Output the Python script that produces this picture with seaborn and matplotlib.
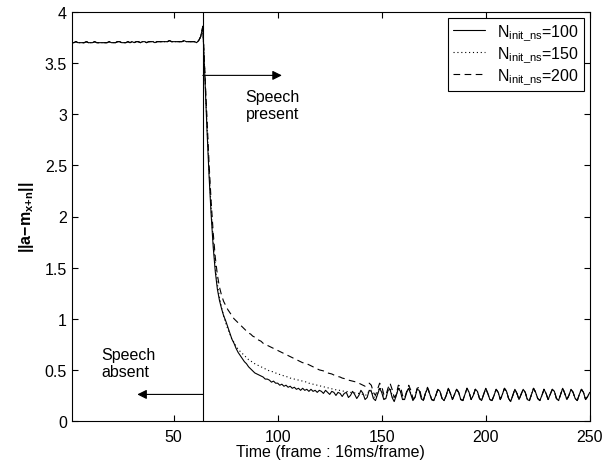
import numpy as np
import matplotlib
matplotlib.use("Agg")
import matplotlib.pyplot as plt
import seaborn as sns

# frames 1..63, identical for all three runs (no speech yet)
pre_speech = [3.70, 3.70, 3.71, 3.70, 3.70, 3.70, 3.70, 3.71, 3.70, 3.70,
              3.70, 3.71, 3.70, 3.70, 3.70, 3.70, 3.70, 3.70, 3.71, 3.70,
              3.70, 3.70, 3.71, 3.71, 3.70, 3.70, 3.70, 3.71, 3.70, 3.71,
              3.70, 3.71, 3.71, 3.70, 3.71, 3.71, 3.70, 3.71, 3.71, 3.71,
              3.70, 3.71, 3.71, 3.71, 3.71, 3.71, 3.71, 3.72, 3.71, 3.71,
              3.71, 3.71, 3.71, 3.71, 3.72, 3.71, 3.71, 3.71, 3.71, 3.71,
              3.70, 3.72, 3.76]

# frames 64..175
decay_100 = [3.86, 3.35, 2.85, 2.40, 2.02, 1.70, 1.46,
             1.29, 1.18, 1.10, 1.03, 0.98, 0.92, 0.86, 0.80, 0.76, 0.71,
             0.67, 0.64, 0.61, 0.58, 0.56, 0.53, 0.51, 0.49, 0.47, 0.46,
             0.45, 0.44, 0.43, 0.41, 0.41, 0.40, 0.38, 0.39, 0.37, 0.37,
             0.35, 0.36, 0.34, 0.35, 0.33, 0.34, 0.32, 0.33, 0.31, 0.32,
             0.30, 0.32, 0.30, 0.31, 0.29, 0.31, 0.29, 0.30, 0.28, 0.30,
             0.29, 0.27, 0.30, 0.28, 0.26, 0.29, 0.28, 0.25, 0.28, 0.27,
             0.24, 0.27, 0.28, 0.23, 0.25, 0.29, 0.26, 0.22, 0.25, 0.30,
             0.27, 0.21, 0.23, 0.30, 0.29, 0.22, 0.20, 0.26, 0.32, 0.28,
             0.21, 0.22, 0.30, 0.31, 0.23, 0.19, 0.25, 0.32, 0.29, 0.21,
             0.21, 0.28, 0.32, 0.26, 0.20, 0.23, 0.31, 0.30, 0.22, 0.20,
             0.27, 0.32, 0.27, 0.21, 0.20]

decay_150 = [3.86, 3.38, 2.90, 2.46, 2.08, 1.76, 1.52,
             1.34, 1.21, 1.11, 1.03, 0.96, 0.90, 0.85, 0.80, 0.77, 0.73,
             0.70, 0.68, 0.66, 0.64, 0.62, 0.60, 0.59, 0.57, 0.56, 0.55,
             0.54, 0.53, 0.52, 0.51, 0.50, 0.49, 0.485, 0.48, 0.47, 0.46,
             0.455, 0.45, 0.44, 0.435, 0.43, 0.42, 0.415, 0.41, 0.405, 0.40,
             0.395, 0.39, 0.385, 0.38, 0.37, 0.365, 0.36, 0.355, 0.35, 0.345,
             0.34, 0.335, 0.33, 0.325, 0.32, 0.315, 0.31, 0.305, 0.30, 0.30,
             0.295, 0.29, 0.29, 0.285, 0.28, 0.28, 0.275, 0.27, 0.27, 0.265,
             0.26, 0.25, 0.26, 0.30, 0.30, 0.24, 0.22, 0.27, 0.33, 0.30,
             0.22, 0.22, 0.30, 0.33, 0.25, 0.20, 0.25, 0.33, 0.30, 0.22,
             0.21, 0.28, 0.33, 0.27, 0.21, 0.23, 0.31, 0.31, 0.22, 0.20,
             0.27, 0.32, 0.27, 0.21, 0.20]

decay_200 = [3.86, 3.42, 2.96, 2.52, 2.15, 1.84, 1.60,
             1.43, 1.31, 1.23, 1.17, 1.13, 1.09, 1.06, 1.03, 1.00, 0.98,
             0.96, 0.94, 0.92, 0.90, 0.88, 0.86, 0.85, 0.83, 0.82, 0.80,
             0.79, 0.78, 0.76, 0.75, 0.74, 0.73, 0.72, 0.71, 0.70, 0.69,
             0.68, 0.67, 0.66, 0.65, 0.64, 0.63, 0.62, 0.61, 0.60, 0.59,
             0.58, 0.57, 0.57, 0.56, 0.55, 0.54, 0.53, 0.52, 0.51, 0.50,
             0.495, 0.49, 0.48, 0.47, 0.465, 0.46, 0.45, 0.44, 0.435, 0.43,
             0.42, 0.415, 0.41, 0.40, 0.395, 0.39, 0.385, 0.38, 0.37, 0.36,
             0.35, 0.34, 0.35, 0.37, 0.35, 0.28, 0.25, 0.31, 0.37, 0.34,
             0.26, 0.25, 0.32, 0.37, 0.31, 0.23, 0.26, 0.35, 0.34, 0.25,
             0.22, 0.29, 0.35, 0.30, 0.22, 0.23, 0.32, 0.33, 0.24, 0.20,
             0.27, 0.33, 0.28, 0.21, 0.20]

# frames 176..250, the three runs overlap here
tail = [0.25, 0.31, 0.29, 0.22, 0.20,
        0.25, 0.32, 0.27, 0.21,
        0.26, 0.31, 0.28, 0.21, 0.20,
        0.26, 0.32, 0.28, 0.21,
        0.25, 0.31, 0.29, 0.22, 0.20,
        0.26, 0.32, 0.27, 0.21, 0.20,
        0.25, 0.31, 0.28, 0.21,
        0.26, 0.32, 0.29, 0.22, 0.19,
        0.25, 0.31, 0.27, 0.21,
        0.26, 0.31, 0.28, 0.21, 0.20,
        0.26, 0.32, 0.28, 0.22, 0.20,
        0.25, 0.31, 0.27, 0.21,
        0.26, 0.31, 0.29, 0.22, 0.20,
        0.26, 0.32, 0.27, 0.21,
        0.25, 0.31, 0.28, 0.22, 0.20,
        0.26, 0.31, 0.28, 0.21,
        0.24, 0.28]

labels = [r"$N_{init\_ns}$=100", r"$N_{init\_ns}$=150", r"$N_{init\_ns}$=200"]
x_ticks = [50, 100, 150, 200, 250]
y_ticks = [0, 0.5, 1, 1.5, 2, 2.5, 3, 3.5, 4]
y_tick_labels = ["0", "0.5", "1", "1.5", "2", "2.5", "3", "3.5", "4"]
speech_onset = 64

sns.set_style("ticks")
plt.rcParams["font.family"] = ["Liberation Sans", "DejaVu Sans"]
plt.rcParams["mathtext.fontset"] = "custom"
plt.rcParams["mathtext.rm"] = "Liberation Sans"
plt.rcParams["mathtext.it"] = "Liberation Sans:italic"
plt.rcParams["mathtext.bf"] = "Liberation Sans:bold"
plt.rcParams["mathtext.default"] = "regular"
plt.rcParams["text.color"] = "black"
plt.rcParams["axes.labelcolor"] = "black"

fig = plt.figure(figsize=(6.03, 4.64), dpi=100)
ax = fig.add_axes([0.119, 0.0905, 0.859, 0.8815])

series = [pre_speech + decay_100 + tail,
          pre_speech + decay_150 + tail,
          pre_speech + decay_200 + tail]
styles = ["-", (0, (1, 2.5)), (0, (6, 4))]
frames = np.arange(1, len(series[0]) + 1)

for values, label, ls in zip(series, labels, styles):
    sns.lineplot(x=frames, y=values, ax=ax, color="black", linestyle=ls,
                 linewidth=0.8, label=label)

ax.axvline(speech_onset, color="black", linewidth=0.8)

arrow = dict(arrowstyle="-|>", color="black", lw=0.8, mutation_scale=14,
             shrinkA=0, shrinkB=0)
ax.annotate("", xy=(102, 3.38), xytext=(speech_onset, 3.38), arrowprops=arrow)
ax.annotate("", xy=(32.5, 0.26), xytext=(speech_onset, 0.26), arrowprops=arrow)
ax.text(84.6, 3.09, "Speech\npresent", fontsize=11.5, va="center", ha="left")
ax.text(15.2, 0.57, "Speech\nabsent", fontsize=11.5, va="center", ha="left")

ax.set_xlim(1, 250)
ax.set_ylim(0, 4)
ax.set_xticks(x_ticks)
ax.set_yticks(y_ticks)
ax.set_yticklabels(y_tick_labels)
ax.tick_params(direction="in", top=True, right=True, labelsize=11.5, length=4,
               width=0.8, colors="black")
ax.tick_params(axis="x", pad=6)
for s in ax.spines.values():
    s.set_color("black")
    s.set_linewidth(0.8)

ax.set_xlabel("Time (frame : 16ms/frame)", fontsize=11.5, labelpad=0)
ax.set_ylabel(r"$\mathbf{||a{-}m_{x{+}n}||}$", fontsize=11.5, labelpad=6)

leg = ax.legend(loc="upper right", fontsize=11.5, frameon=True, fancybox=False,
                edgecolor="black", framealpha=1, handlelength=2.0,
                borderaxespad=0.35, labelspacing=0.15, borderpad=0.3)
leg.get_frame().set_linewidth(0.8)

fig.savefig("out.png", dpi=100)
